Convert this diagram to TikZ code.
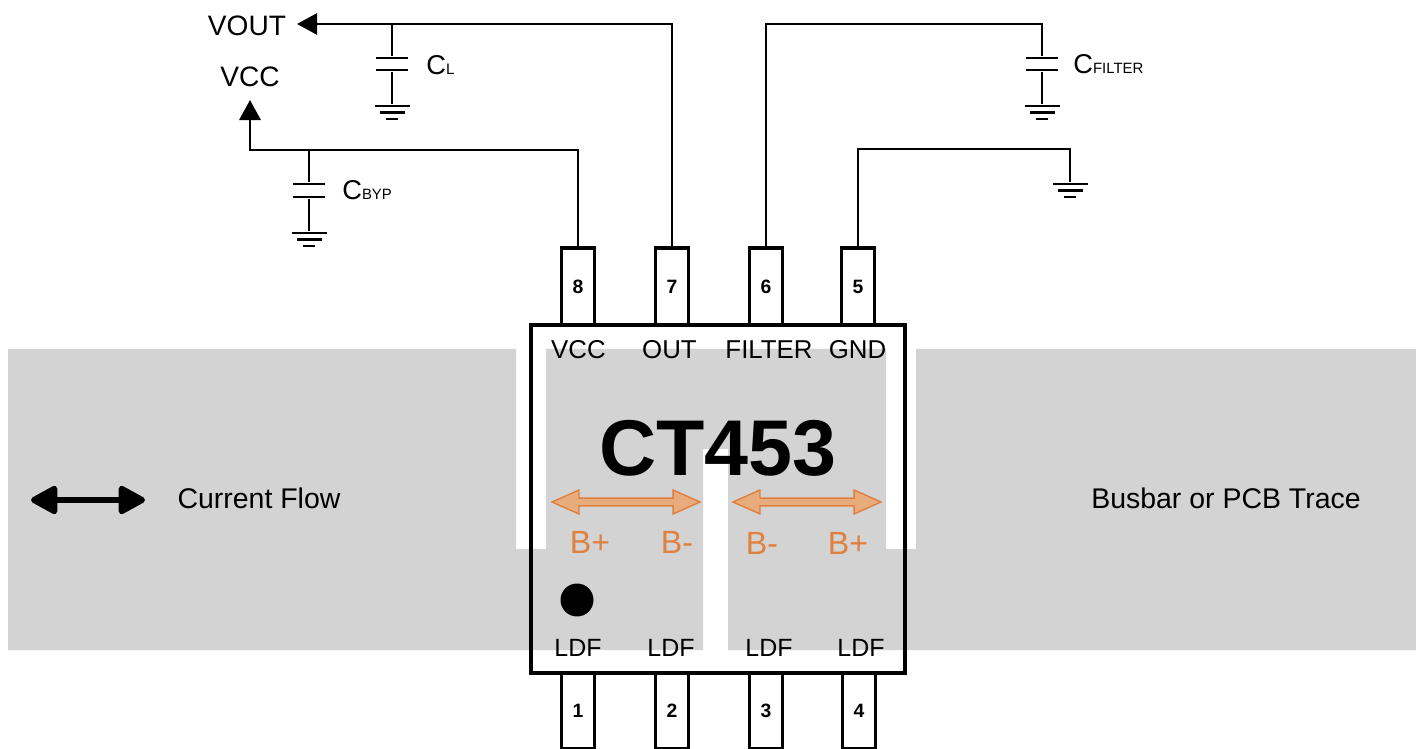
\documentclass[tikz,border=0pt]{standalone}
\usepackage{fontspec}
\usepackage{xcolor}
\usetikzlibrary{arrows.meta}
\usetikzlibrary{shapes.arrows}
\setmainfont{Liberation Sans}
\definecolor{busgray}{RGB}{211, 211, 211}
\definecolor{flowedge}{RGB}{224, 128, 62}
\definecolor{flowfill}{RGB}{232, 171, 124}
\definecolor{inkblack}{RGB}{0, 0, 0}

\begin{document}
\begin{tikzpicture}[
        x=0.02cm, y=-0.02cm,
        chip/.style={rectangle, draw=inkblack, line width=2pt, minimum width=7.48cm, minimum height=6.96cm, inner sep=0pt},
        pin/.style={rectangle, draw=inkblack, line width=2pt, minimum width=0.66cm, minimum height=1.53cm, inner sep=0pt, font=\fontsize{11}{13}\selectfont\bfseries, text height=7.8pt, text depth=0pt},
        pinname/.style={inner sep=0pt, font=\fontsize{14.7}{18}\selectfont, text height=10.6pt, text depth=0pt},
        ldfname/.style={inner sep=0pt, font=\fontsize{14.2}{18}\selectfont, text height=10.6pt, text depth=0pt},
        netname/.style={inner sep=0pt, font=\fontsize{16}{19}\selectfont, text height=11.5pt, text depth=0pt},
        capname/.style={inner sep=0pt, anchor=west, font=\fontsize{15.5}{18}\selectfont, text height=11.1pt, text depth=0pt},
        busname/.style={inner sep=0pt, font=\fontsize{16.2}{19}\selectfont, text height=11.6pt, text depth=0pt},
        termname/.style={inner sep=0pt, text=flowedge, font=\fontsize{18.3}{22}\selectfont, text height=13.1pt, text depth=0pt},
        flowarrow/.style={double arrow, draw=flowedge, fill=flowfill, line width=0.8pt, inner sep=0pt, minimum height=2.96cm, minimum width=0.48cm, double arrow head extend=0.03cm, double arrow tip angle=48},
        wire/.style={draw=inkblack, line width=1.6pt},
        signal/.style={wire, -{Triangle[length=11.4pt, width=12pt]}},
        current/.style={draw=inkblack, line width=3.4pt, line join=round, {Triangle[length=17pt, width=17.5pt, round]}-{Triangle[length=17pt, width=17.5pt, round]}},
        plate/.style={rectangle, fill=inkblack, inner sep=0pt, minimum width=0.64cm, minimum height=1.6pt},
        gndlong/.style={rectangle, fill=inkblack, inner sep=0pt, minimum width=0.70cm, minimum height=1.6pt},
        gndmid/.style={rectangle, fill=inkblack, inner sep=0pt, minimum width=0.50cm, minimum height=1.6pt},
        gndshort/.style={rectangle, fill=inkblack, inner sep=0pt, minimum width=0.24cm, minimum height=1.6pt}
    ]
    \useasboundingbox (0,0) rectangle (1416,749);

    % Busbar with the slits cut out
    \fill[busgray] (8,349) -- (516,349) -- (516,549) -- (546,549) -- (546,349) -- (886,349) -- (886,549) -- (916,549) -- (916,349) -- (1416,349) -- (1416,650) -- (728,650) -- (728,449) -- (703,449) -- (703,650) -- (8,650) -- cycle;

    % Package
    \node[chip] (package) at (718,499) {};
    \node[pin] (pin8) at (578,286.5) {8};
    \node[pin] (pin7) at (672,286.5) {7};
    \node[pin] (pin6) at (766,286.5) {6};
    \node[pin] (pin5) at (858,286.5) {5};
    \node[pin] (pin1) at (578,711) {1};
    \node[pin] (pin2) at (672,711) {2};
    \node[pin] (pin3) at (766,711) {3};
    \node[pin] (pin4) at (859,711) {4};

    % Pin names
    \node[pinname] (name_vcc) at (578.5,349) {VCC};
    \node[pinname] (name_out) at (669.5,349) {OUT};
    \node[pinname] (name_filter) at (769,349) {FILTER};
    \node[pinname] (name_gnd) at (857.5,349) {GND};
    \node[ldfname] (name_ldf1) at (578,647) {LDF};
    \node[ldfname] (name_ldf2) at (671,647) {LDF};
    \node[ldfname] (name_ldf3) at (769,647) {LDF};
    \node[ldfname] (name_ldf4) at (861,647) {LDF};

    % Inside the package
    \node[inner sep=0pt, font=\fontsize{45}{50}\selectfont\bfseries, text height=32.5pt, text depth=0pt] (part) at (718,447) {CT453};
    \node[flowarrow] (flow_left) at (626,502) {};
    \node[flowarrow] (flow_right) at (807,502) {};
    \node[termname] (left_plus) at (590,542) {B+};
    \node[termname] (left_minus) at (677,542) {B-};
    \node[termname] (right_minus) at (762,543) {B-};
    \node[termname] (right_plus) at (848,543) {B+};
    \node[circle, fill=inkblack, inner sep=0pt, minimum size=0.66cm] (dot) at (577,600) {};

    % Bus labels
    \coordinate (current_left) at (31,500);
    \coordinate (current_right) at (145,500);
    \draw[current] (current_left) -- (current_right);
    \node[busname] (current_text) at (259,498) {Current Flow};
    \node[busname] (trace_text) at (1226,498) {Busbar or PCB Trace};

    % Net names
    \node[netname] (vout_text) at (247,25) {VOUT};
    \node[netname] (vcc_text) at (250,76) {VCC};
    \node[capname] (cl_text) at (426,65) {C{\fontsize{8.7}{10}\selectfont L}};
    \node[capname] (cbyp_text) at (342,190) {C{\fontsize{8.5}{10}\selectfont BYP}};
    \node[capname] (cfilter_text) at (1073,64) {C{\fontsize{8.5}{10}\selectfont FILTER}};

    % Capacitor plates
    \node[plate] (cl_top) at (392,58) {};
    \node[plate] (cl_bot) at (392,70) {};
    \node[plate] (cbyp_top) at (309,184) {};
    \node[plate] (cbyp_bot) at (309,197) {};
    \node[plate] (cfilter_top) at (1042,58) {};
    \node[plate] (cfilter_bot) at (1042,70) {};

    % Ground symbols
    \foreach \gname/\gx/\gy in {cl/392/106, cbyp/309/233, cfilter/1042/106, pin/1070/184} {
        \node[gndlong] (\gname_gnd) at (\gx,\gy) {};
        \node[gndmid] (\gname_mid) at (\gx,\gy+6.5) {};
        \node[gndshort] (\gname_low) at (\gx,\gy+13) {};
    }

    % Wires
    \coordinate (vout_tip) at (297,24);
    \coordinate (vcc_tip) at (250,100);
    \coordinate (vcc_bend) at (250,150);
    \coordinate (filter_bend) at (1042,24);
    \coordinate (gnd_bend) at (1070,149);
    \coordinate (cl_tap) at (392,24);
    \coordinate (cbyp_tap) at (309,150);
    \draw[signal] (pin7.north) |- (vout_tip);
    \draw[signal] (pin8.north) |- (vcc_bend) -- (vcc_tip);
    \draw[wire] (pin6.north) |- (filter_bend) -- (cfilter_top);
    \draw[wire] (pin5.north) |- (gnd_bend) -- (pin_gnd);
    \draw[wire] (cl_tap) -- (cl_top);
    \draw[wire] (cl_bot) -- (cl_gnd);
    \draw[wire] (cbyp_tap) -- (cbyp_top);
    \draw[wire] (cbyp_bot) -- (cbyp_gnd);
    \draw[wire] (cfilter_bot) -- (cfilter_gnd);

\end{tikzpicture}
\end{document}
